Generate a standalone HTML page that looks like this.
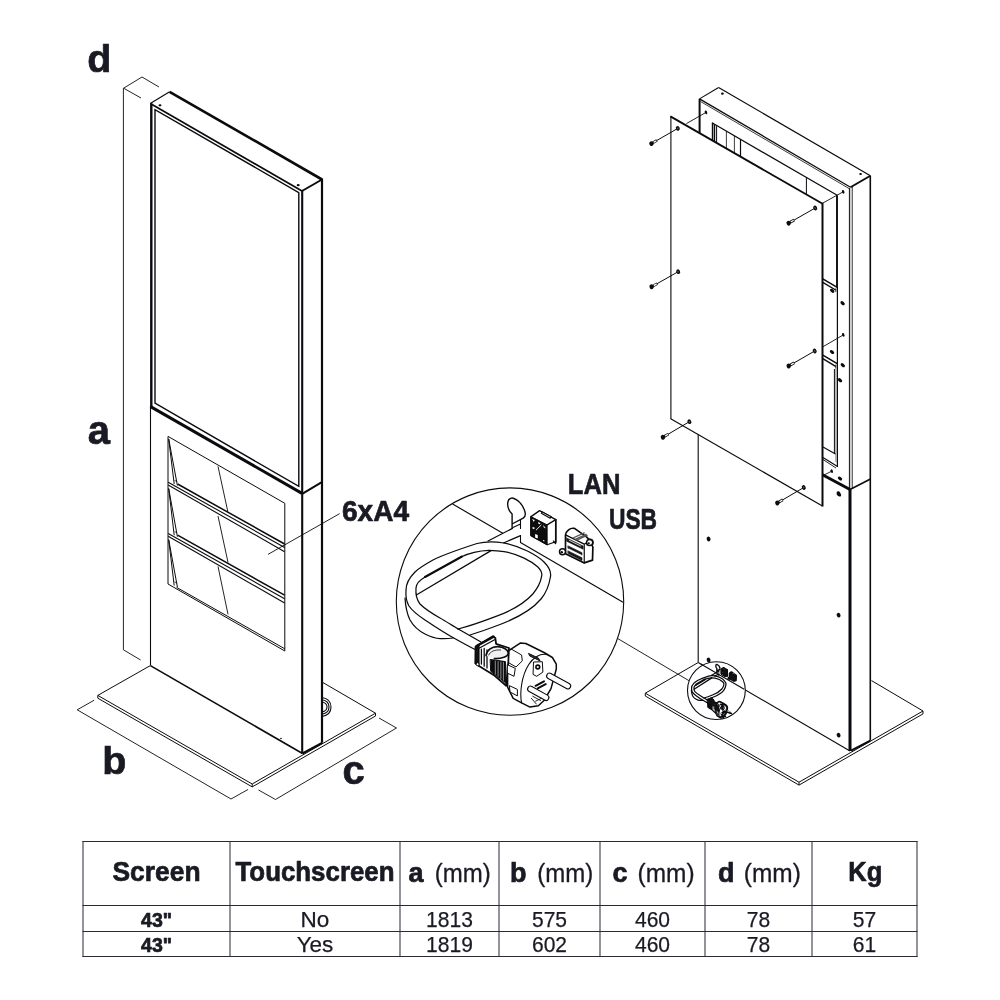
<!DOCTYPE html>
<html lang="en"><head><meta charset="utf-8"><title>Kiosk dimensions</title>
<style>
html,body{margin:0;padding:0;background:#fff;}
body{width:1000px;height:1000px;overflow:hidden;}
svg{display:block;font-family:"Liberation Sans",sans-serif;will-change:transform;opacity:0.999;}
</style></head><body>
<svg width="1000" height="1000" viewBox="0 0 1000 1000">
<rect width="1000" height="1000" fill="#fff"/>
<line x1="123.4" y1="88.2" x2="123.4" y2="649.8" stroke="#0b0b0f" stroke-width="0.9" stroke-linecap="butt"/>
<line x1="123.6" y1="88.2" x2="142.0" y2="77.0" stroke="#0b0b0f" stroke-width="0.9" stroke-linecap="butt"/>
<line x1="142.0" y1="77.0" x2="159.0" y2="87.0" stroke="#0b0b0f" stroke-width="0.9" stroke-linecap="butt"/>
<line x1="123.6" y1="88.2" x2="141.0" y2="98.0" stroke="#0b0b0f" stroke-width="0.9" stroke-linecap="butt"/>
<line x1="123.4" y1="649.8" x2="140.6" y2="660.0" stroke="#0b0b0f" stroke-width="0.9" stroke-linecap="butt"/>
<polyline points="150.3,665.6 97.8,695.4 252.2,784.0 375.5,713.2 322.5,682.3" fill="none" stroke="#0b0b0f" stroke-width="1.0" stroke-linejoin="miter"/>
<polyline points="97.8,695.4 97.8,698.2 252.2,786.9 375.5,716.0 375.5,713.2" fill="none" stroke="#0b0b0f" stroke-width="1.0" stroke-linejoin="miter"/>
<line x1="252.2" y1="784.0" x2="252.2" y2="786.9" stroke="#0b0b0f" stroke-width="1.0" stroke-linecap="butt"/>
<path d="M322,697.5 C328,698.5 331,702.5 331,707 C331,711.5 328,715.5 322,716.5" fill="none" stroke="#0b0b0f" stroke-width="1.1" stroke-linecap="round" stroke-linejoin="round" />
<path d="M322,699.8 C326.5,700.5 329,703.5 329,707 C329,710.5 326.5,713.5 322,714.2" fill="none" stroke="#0b0b0f" stroke-width="1.1" stroke-linecap="round" stroke-linejoin="round" />
<path d="M322,702 C325,702.6 327,704.6 327,707 C327,709.4 325,711.4 322,712" fill="none" stroke="#0b0b0f" stroke-width="1.1" stroke-linecap="round" stroke-linejoin="round" />
<polygon points="150.3,103.5 169.6,91.8 322.0,179.5 322.0,742.6 302.5,753.5 150.4,665.6" fill="#fff" stroke="#0b0b0f" stroke-width="0" stroke-linejoin="miter"/>
<line x1="150.3" y1="103.5" x2="169.6" y2="91.8" stroke="#0b0b0f" stroke-width="1.2" stroke-linecap="butt"/>
<line x1="169.6" y1="91.8" x2="322.0" y2="179.5" stroke="#0b0b0f" stroke-width="2.6" stroke-linecap="butt"/>
<line x1="322.0" y1="179.5" x2="302.0" y2="191.0" stroke="#0b0b0f" stroke-width="2.0" stroke-linecap="butt"/>
<line x1="150.3" y1="103.5" x2="302.0" y2="191.0" stroke="#0b0b0f" stroke-width="1.7" stroke-linecap="butt"/>
<line x1="151.3" y1="103.5" x2="151.3" y2="406.5" stroke="#0b0b0f" stroke-width="2.4" stroke-linecap="butt"/>
<line x1="150.5" y1="406.0" x2="150.5" y2="665.6" stroke="#0b0b0f" stroke-width="1.1" stroke-linecap="butt"/>
<line x1="302.2" y1="191.0" x2="302.2" y2="753.5" stroke="#0b0b0f" stroke-width="2.1" stroke-linecap="butt"/>
<line x1="322.0" y1="178.5" x2="322.0" y2="742.6" stroke="#0b0b0f" stroke-width="2.2" stroke-linecap="butt"/>
<line x1="150.4" y1="665.6" x2="302.5" y2="753.5" stroke="#0b0b0f" stroke-width="1.6" stroke-linecap="butt"/>
<line x1="302.5" y1="753.5" x2="322.5" y2="742.6" stroke="#0b0b0f" stroke-width="2.2" stroke-linecap="butt"/>
<line x1="302.2" y1="493.8" x2="321.8" y2="482.2" stroke="#0b0b0f" stroke-width="2.0" stroke-linecap="butt"/>
<polygon points="155.0,403.2 155.0,109.6 298.8,192.6 298.8,486.4" fill="none" stroke="#0b0b0f" stroke-width="1.4" stroke-linejoin="miter"/>
<line x1="150.6" y1="406.6" x2="302.0" y2="493.4" stroke="#0b0b0f" stroke-width="3.0" stroke-linecap="butt"/>
<ellipse cx="160.0" cy="105.3" rx="1.5" ry="1.1" fill="#0b0b0f" stroke="#0b0b0f" stroke-width="0"/>
<ellipse cx="298.2" cy="185.2" rx="1.5" ry="1.1" fill="#0b0b0f" stroke="#0b0b0f" stroke-width="0"/>
<circle cx="281.0" cy="738.5" r="0.8" fill="#0b0b0f" stroke="#0b0b0f" stroke-width="0"/>
<polygon points="168.0,436.4 284.8,503.3 284.8,651.0 168.0,584.0" fill="none" stroke="#0b0b0f" stroke-width="1.0" stroke-linejoin="miter"/>
<line x1="176.5" y1="587.3" x2="284.8" y2="648.8" stroke="#0b0b0f" stroke-width="1.0" stroke-linecap="butt"/>
<line x1="177.6" y1="484.0" x2="284.6" y2="544.0" stroke="#0b0b0f" stroke-width="1.5" stroke-linecap="butt"/>
<line x1="168.2" y1="482.3" x2="284.6" y2="547.5" stroke="#0b0b0f" stroke-width="1.1" stroke-linecap="butt"/>
<line x1="168.2" y1="485.0" x2="284.6" y2="551.8" stroke="#0b0b0f" stroke-width="1.1" stroke-linecap="butt"/>
<line x1="177.6" y1="535.2" x2="284.6" y2="595.2" stroke="#0b0b0f" stroke-width="1.5" stroke-linecap="butt"/>
<line x1="168.2" y1="533.5" x2="284.6" y2="598.7" stroke="#0b0b0f" stroke-width="1.1" stroke-linecap="butt"/>
<line x1="168.2" y1="536.2" x2="284.6" y2="603.0" stroke="#0b0b0f" stroke-width="1.1" stroke-linecap="butt"/>
<line x1="168.7" y1="439.0" x2="174.2" y2="484.0" stroke="#0b0b0f" stroke-width="1.0" stroke-linecap="butt"/>
<line x1="168.7" y1="439.0" x2="177.4" y2="485.5" stroke="#0b0b0f" stroke-width="1.0" stroke-linecap="butt"/>
<line x1="174.6" y1="480.5" x2="177.2" y2="481.5" stroke="#0b0b0f" stroke-width="0.8" stroke-linecap="butt"/>
<line x1="168.7" y1="488.5" x2="174.2" y2="535.2" stroke="#0b0b0f" stroke-width="1.0" stroke-linecap="butt"/>
<line x1="168.7" y1="488.5" x2="177.4" y2="536.7" stroke="#0b0b0f" stroke-width="1.0" stroke-linecap="butt"/>
<line x1="174.6" y1="531.7" x2="177.2" y2="532.7" stroke="#0b0b0f" stroke-width="0.8" stroke-linecap="butt"/>
<line x1="168.7" y1="539.7" x2="174.2" y2="585.5" stroke="#0b0b0f" stroke-width="1.0" stroke-linecap="butt"/>
<line x1="168.7" y1="539.7" x2="177.4" y2="587.0" stroke="#0b0b0f" stroke-width="1.0" stroke-linecap="butt"/>
<line x1="174.6" y1="582.0" x2="177.2" y2="583.0" stroke="#0b0b0f" stroke-width="0.8" stroke-linecap="butt"/>
<line x1="218.0" y1="466.4" x2="227.8" y2="511.5" stroke="#0b0b0f" stroke-width="0.9" stroke-linecap="butt"/>
<line x1="218.0" y1="516.0" x2="228.0" y2="562.4" stroke="#0b0b0f" stroke-width="0.9" stroke-linecap="butt"/>
<line x1="218.0" y1="566.4" x2="228.0" y2="614.4" stroke="#0b0b0f" stroke-width="0.9" stroke-linecap="butt"/>
<line x1="339.7" y1="513.6" x2="268.0" y2="554.4" stroke="#0b0b0f" stroke-width="0.9" stroke-linecap="butt"/>
<line x1="77.2" y1="709.8" x2="231.0" y2="799.0" stroke="#0b0b0f" stroke-width="0.9" stroke-linecap="butt"/>
<line x1="77.2" y1="709.8" x2="94.2" y2="700.2" stroke="#0b0b0f" stroke-width="0.9" stroke-linecap="butt"/>
<line x1="231.0" y1="799.0" x2="248.0" y2="789.5" stroke="#0b0b0f" stroke-width="0.9" stroke-linecap="butt"/>
<line x1="258.5" y1="790.0" x2="275.5" y2="799.5" stroke="#0b0b0f" stroke-width="0.9" stroke-linecap="butt"/>
<line x1="275.5" y1="799.5" x2="396.5" y2="728.0" stroke="#0b0b0f" stroke-width="0.9" stroke-linecap="butt"/>
<line x1="396.5" y1="728.0" x2="379.0" y2="718.0" stroke="#0b0b0f" stroke-width="0.9" stroke-linecap="butt"/>
<polyline points="698.4,662.4 645.3,693.2 799.0,782.2 923.0,711.0 871.5,680.6" fill="none" stroke="#0b0b0f" stroke-width="1.0" stroke-linejoin="miter"/>
<polyline points="645.3,693.2 645.3,696.0 799.0,785.1 923.0,713.9 923.0,711.0" fill="none" stroke="#0b0b0f" stroke-width="1.0" stroke-linejoin="miter"/>
<line x1="799.0" y1="782.2" x2="799.0" y2="785.1" stroke="#0b0b0f" stroke-width="1.0" stroke-linecap="butt"/>
<polygon points="699.5,98.9 718.6,87.5 870.4,175.8 870.3,740.6 850.0,751.0 698.2,662.4" fill="#fff" stroke="#0b0b0f" stroke-width="0" stroke-linejoin="miter"/>
<line x1="699.5" y1="98.9" x2="718.6" y2="87.5" stroke="#0b0b0f" stroke-width="1.1" stroke-linecap="butt"/>
<line x1="718.6" y1="87.5" x2="870.4" y2="175.8" stroke="#0b0b0f" stroke-width="1.2" stroke-linecap="butt"/>
<line x1="870.4" y1="175.8" x2="850.5" y2="187.2" stroke="#0b0b0f" stroke-width="1.9" stroke-linecap="butt"/>
<line x1="699.5" y1="98.9" x2="850.5" y2="187.2" stroke="#0b0b0f" stroke-width="1.3" stroke-linecap="butt"/>
<line x1="700.5" y1="101.5" x2="849.5" y2="188.8" stroke="#0b0b0f" stroke-width="0.8" stroke-linecap="butt"/>
<ellipse cx="722.4" cy="93.7" rx="1.4" ry="1.1" fill="#0b0b0f" stroke="#0b0b0f" stroke-width="0"/>
<ellipse cx="860.6" cy="174.0" rx="1.4" ry="1.1" fill="#0b0b0f" stroke="#0b0b0f" stroke-width="0"/>
<line x1="699.6" y1="98.9" x2="699.6" y2="134.0" stroke="#0b0b0f" stroke-width="2.0" stroke-linecap="butt"/>
<line x1="870.3" y1="175.8" x2="870.3" y2="740.6" stroke="#0b0b0f" stroke-width="1.6" stroke-linecap="butt"/>
<line x1="849.4" y1="188.0" x2="849.4" y2="489.0" stroke="#0b0b0f" stroke-width="1.0" stroke-linecap="butt"/>
<line x1="852.2" y1="187.0" x2="852.2" y2="488.0" stroke="#0b0b0f" stroke-width="0.9" stroke-linecap="butt"/>
<line x1="850.8" y1="188.0" x2="850.8" y2="489.0" stroke="#cfcfcf" stroke-width="1.6" stroke-linecap="butt"/>
<line x1="850.0" y1="489.5" x2="850.0" y2="751.0" stroke="#0b0b0f" stroke-width="3.0" stroke-linecap="butt"/>
<line x1="698.2" y1="432.0" x2="698.2" y2="662.3" stroke="#0b0b0f" stroke-width="1.1" stroke-linecap="butt"/>
<line x1="698.2" y1="662.4" x2="850.0" y2="751.0" stroke="#0b0b0f" stroke-width="1.1" stroke-linecap="butt"/>
<line x1="851.0" y1="750.6" x2="870.3" y2="740.6" stroke="#0b0b0f" stroke-width="2.0" stroke-linecap="butt"/>
<line x1="822.5" y1="474.8" x2="850.0" y2="489.5" stroke="#0b0b0f" stroke-width="3.0" stroke-linecap="butt"/>
<line x1="850.0" y1="489.5" x2="870.5" y2="479.0" stroke="#0b0b0f" stroke-width="1.6" stroke-linecap="butt"/>
<line x1="712.0" y1="122.8" x2="837.6" y2="195.6" stroke="#0b0b0f" stroke-width="1.2" stroke-linecap="butt"/>
<line x1="712.6" y1="122.8" x2="712.6" y2="142.0" stroke="#0b0b0f" stroke-width="1.6" stroke-linecap="butt"/>
<line x1="714.6" y1="124.0" x2="714.6" y2="143.0" stroke="#0b0b0f" stroke-width="1.2" stroke-linecap="butt"/>
<line x1="716.6" y1="125.4" x2="716.6" y2="144.0" stroke="#0b0b0f" stroke-width="1.0" stroke-linecap="butt"/>
<line x1="726.4" y1="131.1" x2="726.4" y2="149.5" stroke="#0b0b0f" stroke-width="0.8" stroke-linecap="butt"/>
<line x1="734.4" y1="135.8" x2="734.4" y2="154.0" stroke="#0b0b0f" stroke-width="0.8" stroke-linecap="butt"/>
<line x1="740.5" y1="139.3" x2="740.5" y2="157.5" stroke="#0b0b0f" stroke-width="1.2" stroke-linecap="butt"/>
<line x1="806.4" y1="178.0" x2="806.4" y2="195.6" stroke="#0b0b0f" stroke-width="1.0" stroke-linecap="butt"/>
<line x1="837.0" y1="195.6" x2="837.0" y2="287.0" stroke="#0b0b0f" stroke-width="1.9" stroke-linecap="butt"/>
<line x1="837.4" y1="287.0" x2="837.4" y2="467.0" stroke="#0b0b0f" stroke-width="1.2" stroke-linecap="butt"/>
<line x1="822.8" y1="278.9" x2="837.2" y2="287.4" stroke="#0b0b0f" stroke-width="1.5" stroke-linecap="butt"/>
<line x1="822.8" y1="282.4" x2="835.6" y2="290.0" stroke="#0b0b0f" stroke-width="1.4" stroke-linecap="butt"/>
<line x1="835.8" y1="288.4" x2="835.8" y2="291.9" stroke="#0b0b0f" stroke-width="0.9" stroke-linecap="butt"/>
<line x1="822.8" y1="355.2" x2="837.2" y2="363.7" stroke="#0b0b0f" stroke-width="1.5" stroke-linecap="butt"/>
<line x1="822.8" y1="358.7" x2="835.6" y2="366.3" stroke="#0b0b0f" stroke-width="1.4" stroke-linecap="butt"/>
<line x1="835.8" y1="364.7" x2="835.8" y2="368.2" stroke="#0b0b0f" stroke-width="0.9" stroke-linecap="butt"/>
<line x1="834.4" y1="369.0" x2="834.4" y2="454.0" stroke="#0b0b0f" stroke-width="1.0" stroke-linecap="butt"/>
<line x1="836.0" y1="368.0" x2="836.0" y2="462.0" stroke="#9a9a9a" stroke-width="1.4" stroke-linecap="butt"/>
<line x1="823.0" y1="447.0" x2="835.5" y2="454.0" stroke="#0b0b0f" stroke-width="1.1" stroke-linecap="butt"/>
<line x1="823.0" y1="457.5" x2="837.5" y2="466.5" stroke="#0b0b0f" stroke-width="1.1" stroke-linecap="butt"/>
<line x1="823.0" y1="459.5" x2="836.0" y2="468.0" stroke="#0b0b0f" stroke-width="0.9" stroke-linecap="butt"/>
<ellipse cx="832.2" cy="290.8" rx="2.5" ry="1.6" fill="#0b0b0f" stroke="#0b0b0f" stroke-width="0" transform="rotate(38 832.2 290.8)"/>
<ellipse cx="842.6" cy="303.2" rx="2.5" ry="1.6" fill="#0b0b0f" stroke="#0b0b0f" stroke-width="0" transform="rotate(38 842.6 303.2)"/>
<ellipse cx="832.0" cy="352.0" rx="2.5" ry="1.6" fill="#0b0b0f" stroke="#0b0b0f" stroke-width="0" transform="rotate(38 832.0 352.0)"/>
<ellipse cx="842.8" cy="365.2" rx="2.5" ry="1.6" fill="#0b0b0f" stroke="#0b0b0f" stroke-width="0" transform="rotate(38 842.8 365.2)"/>
<ellipse cx="840.0" cy="380.2" rx="2.5" ry="1.6" fill="#0b0b0f" stroke="#0b0b0f" stroke-width="0" transform="rotate(38 840.0 380.2)"/>
<ellipse cx="840.0" cy="478.5" rx="2.5" ry="1.6" fill="#0b0b0f" stroke="#0b0b0f" stroke-width="0" transform="rotate(38 840.0 478.5)"/>
<ellipse cx="839.0" cy="494.5" rx="2.5" ry="1.6" fill="#0b0b0f" stroke="#0b0b0f" stroke-width="0" transform="rotate(38 839.0 494.5)"/>
<ellipse cx="708.6" cy="539.0" rx="1.9" ry="2.4" fill="#0b0b0f" stroke="#0b0b0f" stroke-width="0" transform="rotate(-20 708.6 539.0)"/>
<ellipse cx="838.6" cy="493.6" rx="1.9" ry="2.4" fill="#0b0b0f" stroke="#0b0b0f" stroke-width="0" transform="rotate(-20 838.6 493.6)"/>
<ellipse cx="838.6" cy="615.2" rx="1.9" ry="2.4" fill="#0b0b0f" stroke="#0b0b0f" stroke-width="0" transform="rotate(-20 838.6 615.2)"/>
<ellipse cx="708.6" cy="660.0" rx="1.9" ry="2.4" fill="#0b0b0f" stroke="#0b0b0f" stroke-width="0" transform="rotate(-20 708.6 660.0)"/>
<ellipse cx="838.6" cy="735.2" rx="1.9" ry="2.4" fill="#0b0b0f" stroke="#0b0b0f" stroke-width="0" transform="rotate(-20 838.6 735.2)"/>
<line x1="686.4" y1="123.6" x2="706.0" y2="112.4" stroke="#0b0b0f" stroke-width="0.9" stroke-linecap="butt"/>
<ellipse cx="706.0" cy="112.4" rx="1.2" ry="1.9" fill="#0b0b0f" stroke="#0b0b0f" stroke-width="0" transform="rotate(-20 706.0 112.4)"/>
<line x1="821.8" y1="203.6" x2="843.2" y2="191.8" stroke="#0b0b0f" stroke-width="0.9" stroke-linecap="butt"/>
<ellipse cx="843.2" cy="191.8" rx="1.2" ry="1.9" fill="#0b0b0f" stroke="#0b0b0f" stroke-width="0" transform="rotate(-20 843.2 191.8)"/>
<line x1="822.5" y1="347.0" x2="843.3" y2="334.9" stroke="#0b0b0f" stroke-width="0.9" stroke-linecap="butt"/>
<ellipse cx="843.3" cy="334.9" rx="1.2" ry="1.9" fill="#0b0b0f" stroke="#0b0b0f" stroke-width="0" transform="rotate(-20 843.3 334.9)"/>
<line x1="823.0" y1="475.5" x2="831.7" y2="471.2" stroke="#0b0b0f" stroke-width="0.9" stroke-linecap="butt"/>
<ellipse cx="831.7" cy="471.2" rx="1.2" ry="1.9" fill="#0b0b0f" stroke="#0b0b0f" stroke-width="0" transform="rotate(-20 831.7 471.2)"/>
<polygon points="670.7,116.6 822.2,203.6 822.2,505.8 670.7,418.8" fill="#fff" stroke="#0b0b0f" stroke-width="0" stroke-linejoin="miter"/>
<line x1="670.9" y1="116.2" x2="670.9" y2="419.0" stroke="#0b0b0f" stroke-width="1.1" stroke-linecap="butt"/>
<line x1="670.4" y1="116.4" x2="822.6" y2="203.8" stroke="#0b0b0f" stroke-width="1.8" stroke-linecap="butt"/>
<line x1="670.7" y1="418.8" x2="822.4" y2="505.9" stroke="#0b0b0f" stroke-width="1.2" stroke-linecap="butt"/>
<line x1="822.5" y1="203.0" x2="822.5" y2="506.4" stroke="#0b0b0f" stroke-width="2.0" stroke-linecap="butt"/>
<line x1="651.4" y1="143.6" x2="677.8" y2="128.4" stroke="#0b0b0f" stroke-width="1.0" stroke-linecap="butt"/>
<ellipse cx="677.8" cy="128.4" rx="1.9" ry="2.4" fill="#0b0b0f" stroke="#0b0b0f" stroke-width="0" transform="rotate(-25 677.8 128.4)"/>
<ellipse cx="677.8" cy="128.4" rx="0.7" ry="1.0" fill="#555" stroke="#0b0b0f" stroke-width="0" transform="rotate(-25 677.8 128.4)"/>
<line x1="652.7" y1="142.9" x2="656.9" y2="140.4" stroke="#0b0b0f" stroke-width="2.8" stroke-linecap="butt"/>
<line x1="653.6" y1="142.4" x2="656.4" y2="140.7" stroke="#fff" stroke-width="1.3" stroke-linecap="butt"/>
<ellipse cx="651.4" cy="143.6" rx="2.1" ry="2.4" fill="#0b0b0f" stroke="#0b0b0f" stroke-width="0" transform="rotate(-25 651.4 143.6)"/>
<line x1="788.6" y1="223.2" x2="815.2" y2="208.0" stroke="#0b0b0f" stroke-width="1.0" stroke-linecap="butt"/>
<ellipse cx="815.2" cy="208.0" rx="1.9" ry="2.4" fill="#0b0b0f" stroke="#0b0b0f" stroke-width="0" transform="rotate(-25 815.2 208.0)"/>
<ellipse cx="815.2" cy="208.0" rx="0.7" ry="1.0" fill="#555" stroke="#0b0b0f" stroke-width="0" transform="rotate(-25 815.2 208.0)"/>
<line x1="789.9" y1="222.5" x2="794.2" y2="220.0" stroke="#0b0b0f" stroke-width="2.8" stroke-linecap="butt"/>
<line x1="790.8" y1="222.0" x2="793.6" y2="220.3" stroke="#fff" stroke-width="1.3" stroke-linecap="butt"/>
<ellipse cx="788.6" cy="223.2" rx="2.1" ry="2.4" fill="#0b0b0f" stroke="#0b0b0f" stroke-width="0" transform="rotate(-25 788.6 223.2)"/>
<line x1="651.6" y1="286.8" x2="678.2" y2="271.7" stroke="#0b0b0f" stroke-width="1.0" stroke-linecap="butt"/>
<ellipse cx="678.2" cy="271.7" rx="1.9" ry="2.4" fill="#0b0b0f" stroke="#0b0b0f" stroke-width="0" transform="rotate(-25 678.2 271.7)"/>
<ellipse cx="678.2" cy="271.7" rx="0.7" ry="1.0" fill="#555" stroke="#0b0b0f" stroke-width="0" transform="rotate(-25 678.2 271.7)"/>
<line x1="652.9" y1="286.1" x2="657.2" y2="283.6" stroke="#0b0b0f" stroke-width="2.8" stroke-linecap="butt"/>
<line x1="653.8" y1="285.6" x2="656.6" y2="283.9" stroke="#fff" stroke-width="1.3" stroke-linecap="butt"/>
<ellipse cx="651.6" cy="286.8" rx="2.1" ry="2.4" fill="#0b0b0f" stroke="#0b0b0f" stroke-width="0" transform="rotate(-25 651.6 286.8)"/>
<line x1="788.7" y1="366.0" x2="814.7" y2="351.0" stroke="#0b0b0f" stroke-width="1.0" stroke-linecap="butt"/>
<ellipse cx="814.7" cy="351.0" rx="1.9" ry="2.4" fill="#0b0b0f" stroke="#0b0b0f" stroke-width="0" transform="rotate(-25 814.7 351.0)"/>
<ellipse cx="814.7" cy="351.0" rx="0.7" ry="1.0" fill="#555" stroke="#0b0b0f" stroke-width="0" transform="rotate(-25 814.7 351.0)"/>
<line x1="790.0" y1="365.3" x2="794.2" y2="362.8" stroke="#0b0b0f" stroke-width="2.8" stroke-linecap="butt"/>
<line x1="790.9" y1="364.8" x2="793.7" y2="363.1" stroke="#fff" stroke-width="1.3" stroke-linecap="butt"/>
<ellipse cx="788.7" cy="366.0" rx="2.1" ry="2.4" fill="#0b0b0f" stroke="#0b0b0f" stroke-width="0" transform="rotate(-25 788.7 366.0)"/>
<line x1="662.9" y1="437.3" x2="689.4" y2="421.7" stroke="#0b0b0f" stroke-width="1.0" stroke-linecap="butt"/>
<ellipse cx="689.4" cy="421.7" rx="1.9" ry="2.4" fill="#0b0b0f" stroke="#0b0b0f" stroke-width="0" transform="rotate(-25 689.4 421.7)"/>
<ellipse cx="689.4" cy="421.7" rx="0.7" ry="1.0" fill="#555" stroke="#0b0b0f" stroke-width="0" transform="rotate(-25 689.4 421.7)"/>
<line x1="664.2" y1="436.5" x2="668.4" y2="434.1" stroke="#0b0b0f" stroke-width="2.8" stroke-linecap="butt"/>
<line x1="665.1" y1="436.0" x2="667.9" y2="434.4" stroke="#fff" stroke-width="1.3" stroke-linecap="butt"/>
<ellipse cx="662.9" cy="437.3" rx="2.1" ry="2.4" fill="#0b0b0f" stroke="#0b0b0f" stroke-width="0" transform="rotate(-25 662.9 437.3)"/>
<line x1="777.3" y1="503.0" x2="803.8" y2="487.5" stroke="#0b0b0f" stroke-width="1.0" stroke-linecap="butt"/>
<ellipse cx="803.8" cy="487.5" rx="1.9" ry="2.4" fill="#0b0b0f" stroke="#0b0b0f" stroke-width="0" transform="rotate(-25 803.8 487.5)"/>
<ellipse cx="803.8" cy="487.5" rx="0.7" ry="1.0" fill="#555" stroke="#0b0b0f" stroke-width="0" transform="rotate(-25 803.8 487.5)"/>
<line x1="778.6" y1="502.2" x2="782.8" y2="499.8" stroke="#0b0b0f" stroke-width="2.8" stroke-linecap="butt"/>
<line x1="779.5" y1="501.7" x2="782.3" y2="500.1" stroke="#fff" stroke-width="1.3" stroke-linecap="butt"/>
<ellipse cx="777.3" cy="503.0" rx="2.1" ry="2.4" fill="#0b0b0f" stroke="#0b0b0f" stroke-width="0" transform="rotate(-25 777.3 503.0)"/>
<defs><clipPath id="cb"><circle cx="510" cy="601.6" r="113.7"/></clipPath><clipPath id="cs"><circle cx="716.4" cy="690.6" r="28.9"/></clipPath><g id="det"><path d="M512.1,528.4 L512.1,514 C508.5,511 507,505.5 508,501.5 C509,498 512,497.5 514,498.5 C519,500.5 523.5,506 525,512 C525.8,515.5 524.5,517.5 523.2,518.2 L513,523.5" fill="none" stroke="#0b0b0f" stroke-width="1.4" stroke-linecap="round" stroke-linejoin="round" vector-effect="non-scaling-stroke"/><path d="M513,527.4 L520.5,523.9 M520.5,520 L520.5,528.4 M520.5,535.6 L520.5,542.4" fill="none" stroke="#0b0b0f" stroke-width="1.1" stroke-linecap="round" stroke-linejoin="round" vector-effect="non-scaling-stroke"/><path d="M488,541 L512.4,528.4 M504,542.8 L520.5,535.6" fill="none" stroke="#0b0b0f" stroke-width="1.25" stroke-linecap="round" stroke-linejoin="round" vector-effect="non-scaling-stroke"/><path d="M416.3,595 L491,550.6" fill="none" stroke="#0b0b0f" stroke-width="1.25" stroke-linecap="round" stroke-linejoin="round" vector-effect="non-scaling-stroke"/><path d="M462,556.5 L425,577" fill="none" stroke="#0b0b0f" stroke-width="2.1" stroke-linecap="round" stroke-linejoin="round" vector-effect="non-scaling-stroke"/><path d="M461,557 C468,553.6 478,550.8 489,550.4" fill="none" stroke="#0b0b0f" stroke-width="1.25" stroke-linecap="round" stroke-linejoin="round" vector-effect="non-scaling-stroke"/><path d="M405,598 C405.5,606 407,614 410,620 C414,627 419,631 425,634 C431,637 436,638.5 440,638.5 C445,638.8 449,638.5 453,638" fill="none" stroke="#0b0b0f" stroke-width="1.25" stroke-linecap="round" stroke-linejoin="round" vector-effect="non-scaling-stroke"/><path d="M504,543 C520,546 537,555 544,562 C549,567 551.5,572 550.4,577 C549,586 546,593 541,599 C530,612 510,621 496,626 C487,629.5 478,632.5 470,635" fill="none" stroke="#0b0b0f" stroke-width="1.25" stroke-linecap="round" stroke-linejoin="round" vector-effect="non-scaling-stroke"/><path d="M489,550.4 C496,550.6 500,551 504,551.6 C518,554 531,561 537.6,566.8 C541,570 542.5,573 541.6,576.4 C540.5,583 537,589 532.8,594 C522,606 508,612 496,616.4 C484,621 470,626 458,629" fill="none" stroke="#0b0b0f" stroke-width="1.25" stroke-linecap="round" stroke-linejoin="round" vector-effect="non-scaling-stroke"/><path d="M504,543 C495,541.5 485,541.5 477,543.5 C460,549 445,554 433,560 C424,565 418,569 415,572 C409,578 406,584 406,590 C405.5,597 406.5,602 409,606 C413,612 419,616 425,620 C434,626 443,632 452,637 C460,641.5 468,646 477,650.5" fill="none" stroke="#0b0b0f" stroke-width="1.25" stroke-linecap="round" stroke-linejoin="round" vector-effect="non-scaling-stroke"/><path d="M425,577 C420,580 416,584 416,588 C415.5,594 417,600 420,604 C425,609 432,613.5 440,618 C447,622 453,626 460,630 C467,634 474,638 481,642" fill="none" stroke="#0b0b0f" stroke-width="1.25" stroke-linecap="round" stroke-linejoin="round" vector-effect="non-scaling-stroke"/><path d="M531.0,516.62 L539.62,510.62 L555.75,519.62 L555.75,541.75 L547.12,544.75 L531.0,535.75 Z" fill="#fff" stroke="#0b0b0f" stroke-width="1.3" stroke-linecap="round" stroke-linejoin="round" vector-effect="non-scaling-stroke"/><path d="M531.0,516.62 L547.12,524.88 L547.12,544.75 L531.0,535.75 Z" fill="#0d0d0d" stroke="#0b0b0f" stroke-width="1.0" stroke-linecap="round" stroke-linejoin="round" vector-effect="non-scaling-stroke"/><path d="M547.12,524.88 L555.75,519.62" fill="none" stroke="#0b0b0f" stroke-width="1.2" stroke-linecap="round" stroke-linejoin="round" vector-effect="non-scaling-stroke"/><path d="M555.75,519.62 L555.75,542.5" fill="none" stroke="#0b0b0f" stroke-width="1.6" stroke-linecap="round" stroke-linejoin="round" vector-effect="non-scaling-stroke"/><path d="M542.4,511.9 L551.25,516.85 L550.2,518.2 L541.35,513.25 Z" fill="#fff" stroke="#0b0b0f" stroke-width="1.2" stroke-linecap="round" stroke-linejoin="round" vector-effect="non-scaling-stroke"/><path d="M532.12,518.88 L534.75,520.0 L533.85,522.1 Z M538.12,522.1 L540.38,523.0 L540.0,524.35 L538.35,523.75 Z M543.23,525.1 L546.0,528.4 L543.75,527.5 Z M532.5,526.9 L534.6,527.5 L534.3,529.15 L532.5,528.55 Z M535.12,533.88 L537.75,535.0 L537.75,538.52 L535.12,537.4 Z M543.0,539.88 L544.5,540.4 L544.35,541.6 L543.0,541.0 Z" fill="#fff" stroke="#0b0b0f" stroke-width="0" stroke-linecap="round" stroke-linejoin="round" vector-effect="non-scaling-stroke"/><path d="M536.25,529.9 L541.12,525.1" fill="none" stroke="#fff" stroke-width="0.9" stroke-linecap="round" stroke-linejoin="round" vector-effect="non-scaling-stroke"/><path d="M553.5,541.15 L555.6,543.62" fill="none" stroke="#0b0b0f" stroke-width="1.4" stroke-linecap="round" stroke-linejoin="round" vector-effect="non-scaling-stroke"/><circle cx="589.65" cy="542.5" r="3.3" fill="#fff" stroke="#0b0b0f" stroke-width="1.6" vector-effect="non-scaling-stroke"/><path d="M565.5,553.75 L565.5,535.0 C566.1,530.88 570.0,527.5 574.5,528.4 L586.5,536.88 L589.65,540.25 L592.88,547.0 L592.5,560.12 L584.25,562.9 Z" fill="#fff" stroke="#0b0b0f" stroke-width="1.7" stroke-linecap="round" stroke-linejoin="round" vector-effect="non-scaling-stroke"/><path d="M565.5,534.85 L584.25,544.15 L584.25,562.75 M584.25,544.15 L589.88,540.4" fill="none" stroke="#0b0b0f" stroke-width="1.2" stroke-linecap="round" stroke-linejoin="round" vector-effect="non-scaling-stroke"/><circle cx="589.65" cy="542.5" r="3.1" fill="#fff" stroke="#0b0b0f" stroke-width="1.5" vector-effect="non-scaling-stroke"/><circle cx="588.75" cy="543.25" r="1.1" fill="#0b0b0f"/><path d="M573.0,538.0 L584.25,532.9 M575.25,539.35 L586.12,534.4 M576.75,540.25 L587.1,535.45" fill="none" stroke="#555" stroke-width="1.3" stroke-linecap="round" stroke-linejoin="round" vector-effect="non-scaling-stroke"/><path d="M566.62,538.0 L583.12,546.1 L583.12,549.25 L566.62,541.15 Z M568.12,545.88 L582.0,552.7 L582.0,555.1 L568.12,548.27 Z M568.12,550.9 L582.0,557.73 L582.0,560.5 L568.12,553.6 Z" fill="#1a1a1a" stroke="#0b0b0f" stroke-width="0.6" stroke-linecap="round" stroke-linejoin="round" vector-effect="non-scaling-stroke"/><path d="M569.25,540.25 L580.5,545.88 M569.25,549.25 L580.88,555.1" fill="none" stroke="#fff" stroke-width="0.8" stroke-linecap="round" stroke-linejoin="round" vector-effect="non-scaling-stroke"/><circle cx="562.5" cy="551.65" r="3.0" fill="#fff" stroke="#0b0b0f" stroke-width="1.5" vector-effect="non-scaling-stroke"/><circle cx="561.75" cy="552.25" r="1.2" fill="#0b0b0f"/><path d="M507.6,651.5 L520.2,643.1 L525.8,643.5 L544.0,652.5 L552.4,657.5 L556.3,664.1 L556.3,669.0 L551.0,688.6 L544.0,700.5 L538.4,705.7 L530.0,707.1 L521.6,702.9 L513.2,698.4 L507.6,687.2 Z" fill="#fff" stroke="#0b0b0f" stroke-width="1.5" stroke-linecap="round" stroke-linejoin="round" vector-effect="non-scaling-stroke"/><line x1="549.5" y1="676" x2="567.8" y2="686" stroke="#0b0b0f" stroke-width="6.8" stroke-linecap="round"/><line x1="549.5" y1="676" x2="567.8" y2="686" stroke="#fff" stroke-width="4.6" stroke-linecap="round"/><line x1="530.5" y1="689" x2="546" y2="697.6" stroke="#0b0b0f" stroke-width="6.8" stroke-linecap="round"/><line x1="530.5" y1="689" x2="546" y2="697.6" stroke="#fff" stroke-width="4.6" stroke-linecap="round"/><path d="M521.6,702.9 C519.5,692.8 521.6,676.0 528.6,664.8 C532.8,657.8 539.8,652.9 547.5,654.7" fill="none" stroke="#0b0b0f" stroke-width="1.1" stroke-linecap="round" stroke-linejoin="round" vector-effect="non-scaling-stroke"/><path d="M511.1,649.0 L521.6,655.0 L522.3,660.9 L516.0,667.0 L507.9,662.3" fill="none" stroke="#0b0b0f" stroke-width="1.0" stroke-linecap="round" stroke-linejoin="round" vector-effect="non-scaling-stroke"/><path d="M528.9,653.6 L538.4,658.1 L540.1,660.9 L530.0,656.1 Z" fill="#333" stroke="#0b0b0f" stroke-width="1.0" stroke-linecap="round" stroke-linejoin="round" vector-effect="non-scaling-stroke"/><path d="M533.9,662.0 L542.3,661.7 L542.9,672.1 L536.7,676.3 L533.4,674.6 Z" fill="#fff" stroke="#0b0b0f" stroke-width="1.0" stroke-linecap="round" stroke-linejoin="round" vector-effect="non-scaling-stroke"/><circle cx="537.8" cy="667.0" r="2.7" fill="#0b0b0f"/><circle cx="537.8" cy="667.0" r="1.1" fill="#fff"/><path d="M535.6,685.8 L544.0,681.3 M537.7,688.3 L545.7,684.1" fill="none" stroke="#0b0b0f" stroke-width="2.0" stroke-linecap="round" stroke-linejoin="round" vector-effect="non-scaling-stroke"/><path d="M532.8,696.3 L540.5,700.5 M535.6,701.2 L541.2,698.4 M531.4,698.4 L536.3,704.0" fill="none" stroke="#0b0b0f" stroke-width="0.9" stroke-linecap="round" stroke-linejoin="round" vector-effect="non-scaling-stroke"/><path d="M475.7,646.6 L492.9,636.2 L495.3,637.9 L496.1,643.8 L509.0,648.0 L508.3,662.0 L506.2,685.8 L493.6,674.9 L478.2,665.6 L475.4,663.4 Z" fill="#fff" stroke="#0b0b0f" stroke-width="1.8" stroke-linecap="round" stroke-linejoin="round" vector-effect="non-scaling-stroke"/><path d="M475.4,646.6 L479.0,644.6 L479.0,666 L475.4,663.4 Z" fill="#111" stroke="#0b0b0f" stroke-width="1.2" stroke-linecap="round" stroke-linejoin="round" vector-effect="non-scaling-stroke"/><path d="M477.1,645.8 L493.6,636.8" fill="none" stroke="#0b0b0f" stroke-width="2.4" stroke-linecap="round" stroke-linejoin="round" vector-effect="non-scaling-stroke"/><path d="M479,648.2 L494.6,639.8" fill="none" stroke="#0b0b0f" stroke-width="1.3" stroke-linecap="round" stroke-linejoin="round" vector-effect="non-scaling-stroke"/><path d="M481.4,649.2 L481.4,664 M484.2,648.4 L484.2,666.2 M487.0,650 L487.0,668" fill="none" stroke="#0b0b0f" stroke-width="1.3" stroke-linecap="round" stroke-linejoin="round" vector-effect="non-scaling-stroke"/><path d="M486.0,655.7 C486.6,650.1 492.2,646.3 497.8,646.6 C503.4,646.9 508.3,649.7 508.3,653.3 C507.6,656.7 502.0,658.9 494.3,658.6" fill="#f0f0f0" stroke="#0b0b0f" stroke-width="1.6" stroke-linecap="round" stroke-linejoin="round" vector-effect="non-scaling-stroke"/><path d="M488.7,655.0 C490.1,651.5 495.0,649.4 500.6,650.0" fill="none" stroke="#0b0b0f" stroke-width="0.8" stroke-linecap="round" stroke-linejoin="round" vector-effect="non-scaling-stroke"/><path d="M490.5,659.5 L505.4,661.6 L506,683.2 L502.0,680 L491,671.6 Z" fill="#0a0a0a" stroke="#0b0b0f" stroke-width="1.0" stroke-linecap="round" stroke-linejoin="round" vector-effect="non-scaling-stroke"/><path d="M495.3,661.1 L495.3,674.2 M498.1,661.5 L498.1,676.3 M500.9,662.0 L500.9,678.4 M503.4,662.4 L503.4,680.3" fill="none" stroke="#fff" stroke-width="0.55" stroke-linecap="round" stroke-linejoin="round" vector-effect="non-scaling-stroke"/><path d="M507.6,664.8 L515.3,668.4 L514.0,676.3 L507.6,673.2 Z" fill="#fff" stroke="#0b0b0f" stroke-width="1.0" stroke-linecap="round" stroke-linejoin="round" vector-effect="non-scaling-stroke"/><path d="M509.7,685.8 L517.4,689.4 L517.4,695.9 L510.4,692.2 Z" fill="#fff" stroke="#0b0b0f" stroke-width="1.0" stroke-linecap="round" stroke-linejoin="round" vector-effect="non-scaling-stroke"/><circle cx="477.6" cy="664.2" r="1.5" fill="#fff" stroke="#0b0b0f" stroke-width="1" vector-effect="non-scaling-stroke"/></g></defs>
<line x1="617.8" y1="638.6" x2="689.2" y2="680.8" stroke="#0b0b0f" stroke-width="0.9" stroke-linecap="butt"/>
<circle cx="510.0" cy="601.6" r="113.7" fill="#fff" stroke="#0b0b0f" stroke-width="1.1"/>
<g clip-path="url(#cb)"><path d="M452.6,504 L502.8,533.2 M520.5,542.4 L623,602.2" fill="none" stroke="#0b0b0f" stroke-width="1.15"/><use href="#det"/></g>
<circle cx="716.4" cy="690.6" r="28.9" fill="#fff" stroke="#0b0b0f" stroke-width="1.1"/>
<g clip-path="url(#cs)"><g transform="translate(594.98 536.66) scale(0.2380 0.2565)"><use href="#det"/></g>
<path d="M707.4,699.5 L711.6,697.4 L714.2,700.2 L713.6,706.2 L707.8,703.6 Z" fill="#111" stroke="#0b0b0f" stroke-width="0.8" stroke-linecap="round" stroke-linejoin="round" />
<path d="M714.5,702 L719,706 L719,712.5 L714.5,709 Z" fill="#111" stroke="#0b0b0f" stroke-width="0.6" stroke-linecap="round" stroke-linejoin="round" />
<path d="M720.5,704.5 C724,703.5 727.5,706 727,709.5 C726.5,713.5 723.5,717 720,717" fill="none" stroke="#0b0b0f" stroke-width="1.4" stroke-linecap="round" stroke-linejoin="round" />
<path d="M722.6,706.5 L722.9,710 M725,711.5 L731.5,713.5 M721.5,714.5 L725.5,716.5" fill="none" stroke="#0b0b0f" stroke-width="1.5" stroke-linecap="round" stroke-linejoin="round" />
<path d="M722.2,668.6 L726.6,671 L726.6,676.2 L722.2,673.8 Z" fill="#111" stroke="#0b0b0f" stroke-width="1.0" stroke-linecap="round" stroke-linejoin="round" />
<path d="M730.8,673.2 L735.6,675.6 L735.6,680.6 L730.8,678.2 Z" fill="#111" stroke="#0b0b0f" stroke-width="1.0" stroke-linecap="round" stroke-linejoin="round" />
</g>
<line x1="700.8" y1="663.9" x2="744.2" y2="689.2" stroke="#0b0b0f" stroke-width="1.1" stroke-linecap="butt"/>
<text x="87.3" y="72.0" font-size="39.5" font-weight="bold" text-anchor="start" fill="#1a1a24" stroke="#1a1a24" stroke-width="0.7" stroke-linejoin="round" >d</text>
<text x="87.8" y="443.6" font-size="40" font-weight="bold" text-anchor="start" fill="#1a1a24" stroke="#1a1a24" stroke-width="0.7" stroke-linejoin="round" >a</text>
<text x="102.3" y="773.6" font-size="39.5" font-weight="bold" text-anchor="start" fill="#1a1a24" stroke="#1a1a24" stroke-width="0.7" stroke-linejoin="round" >b</text>
<text x="342.6" y="784.0" font-size="40" font-weight="bold" text-anchor="start" fill="#1a1a24" stroke="#1a1a24" stroke-width="0.7" stroke-linejoin="round" >c</text>
<text x="341.9" y="520.6" font-size="30" font-weight="bold" text-anchor="start" fill="#1a1a24" stroke="#1a1a24" stroke-width="0.7" stroke-linejoin="round" textLength="67.2" lengthAdjust="spacingAndGlyphs">6xA4</text>
<text x="567.8" y="494.3" font-size="30" font-weight="bold" text-anchor="start" fill="#1a1a24" stroke="#1a1a24" stroke-width="0.7" stroke-linejoin="round" textLength="52.6" lengthAdjust="spacingAndGlyphs">LAN</text>
<text x="608.9" y="528.8" font-size="30" font-weight="bold" text-anchor="start" fill="#1a1a24" stroke="#1a1a24" stroke-width="0.7" stroke-linejoin="round" textLength="48.2" lengthAdjust="spacingAndGlyphs">USB</text>
<line x1="83.0" y1="841.0" x2="83.0" y2="957.0" stroke="#3a3a46" stroke-width="1.1" stroke-linecap="butt"/>
<line x1="230.0" y1="841.0" x2="230.0" y2="957.0" stroke="#3a3a46" stroke-width="1.1" stroke-linecap="butt"/>
<line x1="400.0" y1="841.0" x2="400.0" y2="957.0" stroke="#3a3a46" stroke-width="1.1" stroke-linecap="butt"/>
<line x1="499.0" y1="841.0" x2="499.0" y2="957.0" stroke="#3a3a46" stroke-width="1.1" stroke-linecap="butt"/>
<line x1="600.0" y1="841.0" x2="600.0" y2="957.0" stroke="#3a3a46" stroke-width="1.1" stroke-linecap="butt"/>
<line x1="705.0" y1="841.0" x2="705.0" y2="957.0" stroke="#3a3a46" stroke-width="1.1" stroke-linecap="butt"/>
<line x1="812.0" y1="841.0" x2="812.0" y2="957.0" stroke="#3a3a46" stroke-width="1.1" stroke-linecap="butt"/>
<line x1="917.0" y1="841.0" x2="917.0" y2="957.0" stroke="#3a3a46" stroke-width="1.1" stroke-linecap="butt"/>
<line x1="82.5" y1="841.5" x2="917.5" y2="841.5" stroke="#2a2a34" stroke-width="1.1" stroke-linecap="butt"/>
<line x1="82.5" y1="905.5" x2="917.5" y2="905.5" stroke="#2a2a34" stroke-width="1.1" stroke-linecap="butt"/>
<line x1="82.5" y1="931.5" x2="917.5" y2="931.5" stroke="#2a2a34" stroke-width="1.1" stroke-linecap="butt"/>
<line x1="82.5" y1="956.5" x2="917.5" y2="956.5" stroke="#2a2a34" stroke-width="1.1" stroke-linecap="butt"/>
<text x="156.5" y="881.3" font-size="27" font-weight="bold" text-anchor="middle" fill="#1a1a24" stroke="#1a1a24" stroke-width="0.7" stroke-linejoin="round" textLength="88" lengthAdjust="spacingAndGlyphs">Screen</text>
<text x="315.0" y="881.3" font-size="27" font-weight="bold" text-anchor="middle" fill="#1a1a24" stroke="#1a1a24" stroke-width="0.7" stroke-linejoin="round" textLength="159" lengthAdjust="spacingAndGlyphs">Touchscreen</text>
<text x="408.6" y="881.6" font-size="27" font-weight="bold" text-anchor="start" fill="#1a1a24" stroke="#1a1a24" stroke-width="0.7" stroke-linejoin="round" >a</text>
<text x="434.8" y="881.8" font-size="25" font-weight="normal" text-anchor="start" fill="#1a1a24" stroke="#1a1a24" stroke-width="0.3" stroke-linejoin="round" textLength="56" lengthAdjust="spacingAndGlyphs">(mm)</text>
<text x="509.9" y="881.6" font-size="27" font-weight="bold" text-anchor="start" fill="#1a1a24" stroke="#1a1a24" stroke-width="0.7" stroke-linejoin="round" >b</text>
<text x="537.2" y="881.8" font-size="25" font-weight="normal" text-anchor="start" fill="#1a1a24" stroke="#1a1a24" stroke-width="0.3" stroke-linejoin="round" textLength="56" lengthAdjust="spacingAndGlyphs">(mm)</text>
<text x="612.4" y="881.6" font-size="27" font-weight="bold" text-anchor="start" fill="#1a1a24" stroke="#1a1a24" stroke-width="0.7" stroke-linejoin="round" >c</text>
<text x="637.6" y="881.8" font-size="25" font-weight="normal" text-anchor="start" fill="#1a1a24" stroke="#1a1a24" stroke-width="0.3" stroke-linejoin="round" textLength="57" lengthAdjust="spacingAndGlyphs">(mm)</text>
<text x="718.0" y="881.6" font-size="27" font-weight="bold" text-anchor="start" fill="#1a1a24" stroke="#1a1a24" stroke-width="0.7" stroke-linejoin="round" >d</text>
<text x="743.8" y="881.8" font-size="25" font-weight="normal" text-anchor="start" fill="#1a1a24" stroke="#1a1a24" stroke-width="0.3" stroke-linejoin="round" textLength="57" lengthAdjust="spacingAndGlyphs">(mm)</text>
<text x="865.3" y="881.3" font-size="27" font-weight="bold" text-anchor="middle" fill="#1a1a24" stroke="#1a1a24" stroke-width="0.7" stroke-linejoin="round" textLength="34" lengthAdjust="spacingAndGlyphs">Kg</text>
<text x="156.5" y="926.6" font-size="19.5" font-weight="bold" text-anchor="middle" fill="#1a1a24" stroke="#1a1a24" stroke-width="0.7" stroke-linejoin="round" >43&quot;</text>
<text x="315.0" y="926.6" font-size="22.5" font-weight="normal" text-anchor="middle" fill="#1a1a24" stroke="#1a1a24" stroke-width="0.25" stroke-linejoin="round" >No</text>
<text x="449.5" y="926.6" font-size="22.5" font-weight="normal" text-anchor="middle" fill="#1a1a24" stroke="#1a1a24" stroke-width="0.25" stroke-linejoin="round" textLength="46.8" lengthAdjust="spacingAndGlyphs">1813</text>
<text x="549.5" y="926.6" font-size="22.5" font-weight="normal" text-anchor="middle" fill="#1a1a24" stroke="#1a1a24" stroke-width="0.25" stroke-linejoin="round" textLength="35.1" lengthAdjust="spacingAndGlyphs">575</text>
<text x="652.5" y="926.6" font-size="22.5" font-weight="normal" text-anchor="middle" fill="#1a1a24" stroke="#1a1a24" stroke-width="0.25" stroke-linejoin="round" textLength="35.1" lengthAdjust="spacingAndGlyphs">460</text>
<text x="758.5" y="926.6" font-size="22.5" font-weight="normal" text-anchor="middle" fill="#1a1a24" stroke="#1a1a24" stroke-width="0.25" stroke-linejoin="round" textLength="23.4" lengthAdjust="spacingAndGlyphs">78</text>
<text x="864.5" y="926.6" font-size="22.5" font-weight="normal" text-anchor="middle" fill="#1a1a24" stroke="#1a1a24" stroke-width="0.25" stroke-linejoin="round" textLength="23.4" lengthAdjust="spacingAndGlyphs">57</text>
<text x="156.5" y="952.2" font-size="19.5" font-weight="bold" text-anchor="middle" fill="#1a1a24" stroke="#1a1a24" stroke-width="0.7" stroke-linejoin="round" >43&quot;</text>
<text x="315.0" y="952.2" font-size="22.5" font-weight="normal" text-anchor="middle" fill="#1a1a24" stroke="#1a1a24" stroke-width="0.25" stroke-linejoin="round" >Yes</text>
<text x="449.5" y="952.2" font-size="22.5" font-weight="normal" text-anchor="middle" fill="#1a1a24" stroke="#1a1a24" stroke-width="0.25" stroke-linejoin="round" textLength="46.8" lengthAdjust="spacingAndGlyphs">1819</text>
<text x="549.5" y="952.2" font-size="22.5" font-weight="normal" text-anchor="middle" fill="#1a1a24" stroke="#1a1a24" stroke-width="0.25" stroke-linejoin="round" textLength="35.1" lengthAdjust="spacingAndGlyphs">602</text>
<text x="652.5" y="952.2" font-size="22.5" font-weight="normal" text-anchor="middle" fill="#1a1a24" stroke="#1a1a24" stroke-width="0.25" stroke-linejoin="round" textLength="35.1" lengthAdjust="spacingAndGlyphs">460</text>
<text x="758.5" y="952.2" font-size="22.5" font-weight="normal" text-anchor="middle" fill="#1a1a24" stroke="#1a1a24" stroke-width="0.25" stroke-linejoin="round" textLength="23.4" lengthAdjust="spacingAndGlyphs">78</text>
<text x="864.5" y="952.2" font-size="22.5" font-weight="normal" text-anchor="middle" fill="#1a1a24" stroke="#1a1a24" stroke-width="0.25" stroke-linejoin="round" textLength="23.4" lengthAdjust="spacingAndGlyphs">61</text>
</svg>
</body></html>
